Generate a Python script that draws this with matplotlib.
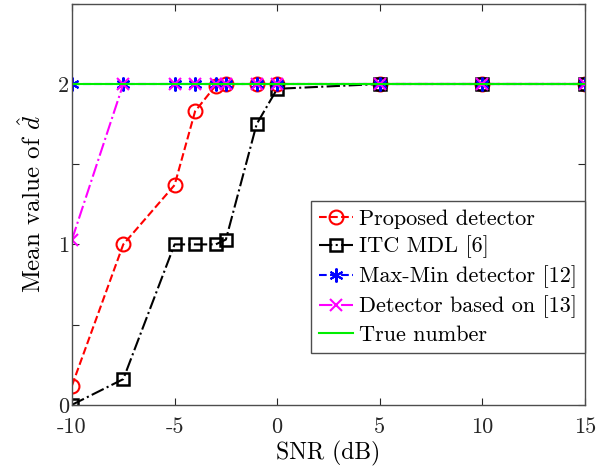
from matplotlib import pyplot as plt

plt.rcParams['font.family'] = 'serif'
plt.rcParams['font.serif'] = ['cmr10']
plt.rcParams['mathtext.fontset'] = 'cm'
plt.rcParams['axes.unicode_minus'] = False

snr = [-10, -7.5, -5, -4, -3, -2.5, -1, 0, 5, 10, 15]
proposed = [0.12, 1.0, 1.37, 1.83, 1.99, 2, 2, 2, 2, 2, 2]
itc_mdl = [0, 0.16, 1.0, 1.0, 1.0, 1.03, 1.75, 1.97, 2, 2, 2]
maxmin = [2, 2, 2, 2, 2, 2, 2, 2, 2, 2, 2]
based13 = [1.03, 2, 2, 2, 2, 2, 2, 2, 2, 2, 2]
true_num = [2, 2, 2, 2, 2, 2, 2, 2, 2, 2, 2]

xticks = [-10, -5, 0, 5, 10, 15]
xticklabels = ['-10', '-5', '0', '5', '10', '15']
yticks = [0, 0.5, 1, 1.5, 2, 2.5]
yticklabels = ['0', '', '1', '', '2', '']

fig = plt.figure(figsize=(6.1, 4.74), dpi=100)
ax = fig.add_axes([0.118, 0.146, 0.841, 0.846])

ax.plot(snr, proposed, '--', color='#ff0000', lw=1.5, marker='o', ms=10,
        mfc='none', mew=1.5, label='Proposed detector')
ax.plot(snr, itc_mdl, '-.', color='black', lw=1.5, marker='s', ms=8.5,
        mfc='none', mew=1.8, label='ITC MDL [6]')
ax.plot(snr, maxmin, '--', color='#0000ff', lw=1.5, marker=(6, 2, 0), ms=10,
        mew=1.5, label='Max-Min detector [12]')
ax.plot(snr, based13, '-.', color='#ff00ff', lw=1.5, marker='x', ms=8,
        mew=1.5, label='Detector based on [13]')
ax.plot(snr, true_num, '-', color='#00ee00', lw=1.5, label='True number')

ax.set_xlim(-10, 15)
ax.set_ylim(0, 2.5)
ax.set_xticks(xticks)
ax.set_xticklabels(xticklabels)
ax.set_yticks(yticks)
ax.set_yticklabels(yticklabels)
ax.tick_params(direction='in', length=5, width=0.8, labelsize=16,
               top=True, right=True, colors='#262626')
ax.tick_params(axis='x', pad=9)
ax.tick_params(axis='y', pad=2)
for s in ax.spines.values():
    s.set_color('#4d4d4d')
    s.set_linewidth(1.0)

ax.set_xlabel('SNR (dB)', fontsize=17, labelpad=3)
ax.set_ylabel(r'Mean value of $\hat{d}$', fontsize=18, labelpad=9)

leg = ax.legend(loc='lower right', bbox_to_anchor=(1.0, 0.13), fontsize=16,
                handlelength=1.5, handletextpad=0.3, labelspacing=0.32,
                borderpad=0.35, borderaxespad=0, fancybox=False, framealpha=1)
leg.get_frame().set_edgecolor('#4d4d4d')
leg.get_frame().set_linewidth(1.0)

fig.savefig('out.png', dpi=100)
